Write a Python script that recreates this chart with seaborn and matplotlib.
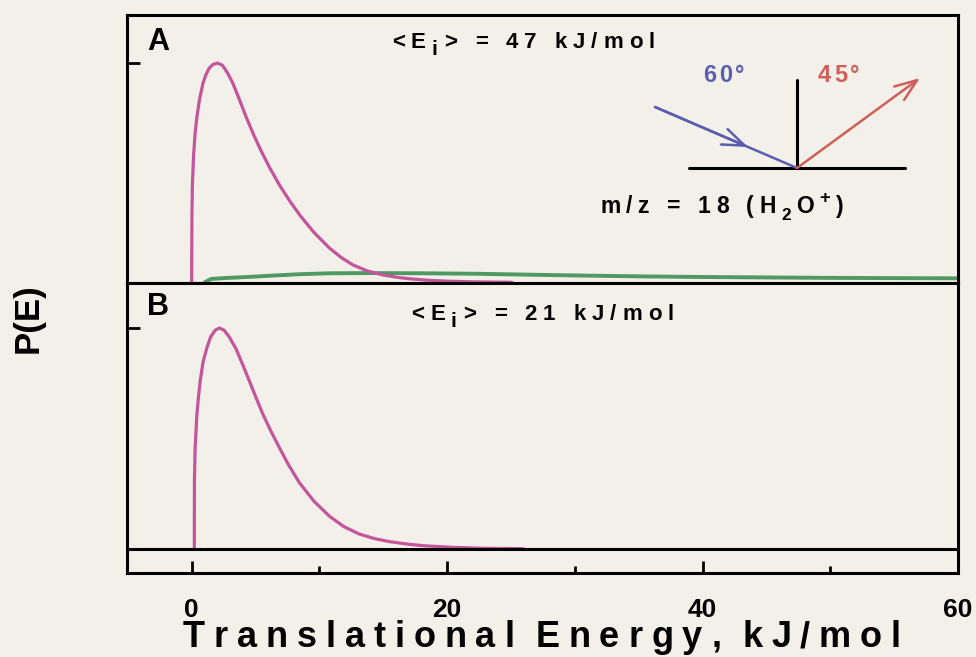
import matplotlib
matplotlib.use('Agg')
import matplotlib.pyplot as plt
from matplotlib.transforms import IdentityTransform
import seaborn as sns

# panel A (<Ei> = 47 kJ/mol): fast channel (pink) and slow broad channel (green)
energy_a = [0.0, 0.005, 0.02, 0.06, 0.15, 0.27, 0.4, 0.6, 0.87, 1.1, 1.35, 1.65, 2.0,
            2.4, 2.8, 3.2, 3.7, 4.27, 4.85, 5.44, 6.1, 6.9, 7.7, 8.5, 9.6, 10.8, 11.7,
            12.6, 13.7, 14.9, 16.0, 17.0, 18.5, 20.0, 22.0, 25.0]
pe_a = [0.0, 0.1, 0.3, 0.45, 0.58, 0.68, 0.75, 0.83, 0.905, 0.945, 0.975, 0.993, 1.0,
        0.99, 0.955, 0.91, 0.838, 0.752, 0.672, 0.598, 0.522, 0.44, 0.368, 0.303, 0.225,
        0.155, 0.113, 0.08, 0.053, 0.035, 0.024, 0.017, 0.01, 0.006, 0.003, 0.001]
energy_a_slow = [1.0, 1.5, 2.5, 4.3, 6.5, 8.5, 10.8, 14.0, 18.0, 22.0, 26.0, 30.0, 35.0,
                 40.0, 45.0, 50.0, 55.0, 60.0]
pe_a_slow = [0.0, 0.016, 0.02, 0.025, 0.032, 0.038, 0.042, 0.043, 0.042, 0.04, 0.036,
             0.032, 0.028, 0.025, 0.023, 0.021, 0.02, 0.019]

# panel B (<Ei> = 21 kJ/mol)
energy_b = [0.22, 0.222, 0.23, 0.28, 0.42, 0.55, 0.68, 0.9, 1.2, 1.5, 1.85, 2.19, 2.55,
            2.95, 3.49, 4.0, 4.53, 5.05, 5.57, 6.2, 6.88, 7.6, 8.44, 9.6, 10.8, 11.9,
            13.1, 14.3, 15.5, 17.0, 18.3, 20.5, 22.7, 26.0]
pe_b = [0.0, 0.15, 0.31, 0.45, 0.61, 0.69, 0.76, 0.845, 0.91, 0.96, 0.99, 1.0, 0.99,
        0.96, 0.905, 0.835, 0.76, 0.685, 0.612, 0.535, 0.458, 0.38, 0.30, 0.215, 0.148,
        0.102, 0.068, 0.047, 0.033, 0.021, 0.014, 0.007, 0.003, 0.001]

x_major = [0, 20, 40, 60]
x_minor = [10, 30, 50]
x_labels = ['0', '20', '40', '60']

PINK = '#c4559d'
GREEN = '#4f9a63'
BLUE = '#5a5eae'
RED = '#cf5f58'
PAPER = '#f2f0e8'
W, H = 976, 657

sns.set_theme(style='white')
plt.rcParams['font.family'] = ['Liberation Sans', 'DejaVu Sans']
plt.rcParams['font.weight'] = 'bold'
plt.rcParams['text.color'] = 'black'
plt.rcParams['xtick.color'] = 'black'
plt.rcParams['ytick.color'] = 'black'

fig = plt.figure(figsize=(W / 100, H / 100), dpi=100, facecolor=PAPER)
axA = fig.add_axes([127 / W, 1 - 282.5 / H, 831 / W, 267.5 / H])
axB = fig.add_axes([127 / W, 1 - 573 / H, 831 / W, 290.5 / H])

sns.lineplot(x=energy_a_slow, y=pe_a_slow, ax=axA, color=GREEN, lw=2.8, estimator=None, sort=False)
sns.lineplot(x=energy_a, y=pe_a, ax=axA, color=PINK, lw=2.3, estimator=None, sort=False)
sns.lineplot(x=energy_b, y=pe_b, ax=axB, color=PINK, lw=2.3, estimator=None, sort=False)
axB.axhline(0, color='black', lw=2.2)

axA.set_ylim(0, 1.219)
axB.set_ylim(-0.109, 1.206)
for ax in (axA, axB):
    ax.set_facecolor(PAPER)
    ax.set_xlim(-5.05, 59.85)
    ax.set_xlabel('')
    ax.set_ylabel('')
    for s in ax.spines.values():
        s.set_color('black')
        s.set_linewidth(2.2)
    ax.set_yticks([1])
    ax.set_yticklabels([])
    ax.tick_params(axis='y', direction='in', length=9, width=2, left=True, color='black')

axA.set_xticks([])
axB.set_xticks(x_major)
axB.set_xticks(x_minor, minor=True)
axB.set_xticklabels(x_labels, fontsize=19, fontweight='bold', color='black')
axB.tick_params(axis='x', which='major', direction='in', length=9, width=2, bottom=True,
                pad=18, color='black', labelcolor='black')
axB.tick_params(axis='x', which='minor', direction='in', length=5, width=2, bottom=True,
                color='black')

renderer = fig.canvas.get_renderer()


def spaced(x, y, tokens, size, gap, space, color='black'):
    # draws token by token at image pixel coords (y from top), the old lettering is widely tracked
    x0, base = x, H - y
    for tok in tokens:
        if tok == ' ':
            x0 += space
            continue
        s, scale, dy = (tok, 1.0, 0.0) if isinstance(tok, str) else tok
        t = fig.text(x0, base + dy * size * 100 / 72, s, transform=IdentityTransform(),
                     fontsize=size * scale, fontweight='bold', color=color,
                     ha='left', va='baseline')
        x0 += t.get_window_extent(renderer).width + gap


def px(x, y, top, height):
    return ((x - 127) / 831, (top + height - y) / height)


spaced(147, 50, ['A'], 22, 0, 0)
spaced(147, 315, ['B'], 22, 0, 0)
spaced(392, 48, ['<', 'E', ('i', 0.95, -0.3), '>', ' ', '=', ' ', '4', '7', ' ',
                 'k', 'J', '/', 'm', 'o', 'l'], 16, 6, 12)
spaced(411, 320, ['<', 'E', ('i', 0.95, -0.3), '>', ' ', '=', ' ', '2', '1', ' ',
                  'k', 'J', '/', 'm', 'o', 'l'], 16, 6, 12)
spaced(600, 213, ['m', '/', 'z', ' ', '=', ' ', '1', '8', ' ', '(', 'H', ('2', 0.75, -0.3),
                  'O', ('+', 0.8, 0.45), ')'], 16.5, 5.5, 12)
spaced(703, 82, ['6', '0', '\u00b0'], 17, 3, 0, color=BLUE)
spaced(818, 82, ['4', '5', '\u00b0'], 17, 3, 0, color=RED)
spaced(183, 647, list('Translational') + [' '] + list('Energy,') + [' '] + list('kJ/mol'),
       26, 8.9, 12)
fig.text(28 / W, 1 - 318 / H, 'P(E)', rotation=90, fontsize=25, fontweight='bold',
         ha='center', va='center')

# incidence / exit geometry sketch in panel A
top_a, h_a = 15, 267.5
axA.plot(*zip(px(797, 80, top_a, h_a), px(797, 168, top_a, h_a)),
         transform=axA.transAxes, color='black', lw=2.2)
axA.plot(*zip(px(689, 168, top_a, h_a), px(905, 168, top_a, h_a)),
         transform=axA.transAxes, color='black', lw=2.2)
axA.plot(*zip(px(655, 107, top_a, h_a), px(797, 168, top_a, h_a)),
         transform=axA.transAxes, color=BLUE, lw=1.8)
axA.annotate('', xy=px(748, 147, top_a, h_a), xytext=px(655, 107, top_a, h_a),
             xycoords='axes fraction', textcoords='axes fraction',
             arrowprops=dict(arrowstyle='->,head_length=0.8,head_width=0.3', color=BLUE,
                             lw=1.8, mutation_scale=20, shrinkA=0, shrinkB=0))
axA.annotate('', xy=px(920, 78, top_a, h_a), xytext=px(797, 168, top_a, h_a),
             xycoords='axes fraction', textcoords='axes fraction',
             arrowprops=dict(arrowstyle='->,head_length=0.8,head_width=0.3', color=RED,
                             lw=1.8, mutation_scale=20, shrinkA=0, shrinkB=0))

fig.savefig('out.png', dpi=100, facecolor=PAPER)
